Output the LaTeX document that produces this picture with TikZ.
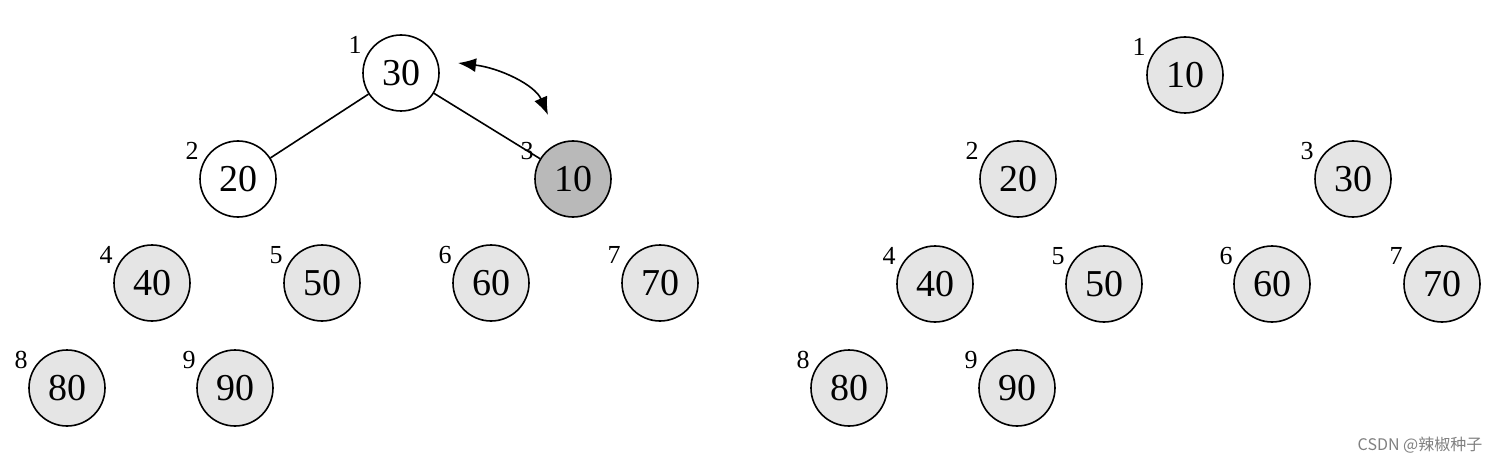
\documentclass[tikz,border=0pt]{standalone}
\usepackage{fontspec}
\setmainfont{Liberation Serif}
\newfontfamily\cjk{Noto Sans CJK SC}
\usetikzlibrary{arrows.meta}
\begin{document}
\begin{tikzpicture}[x=0.5pt,y=-0.5pt,
  nd/.style={circle,draw,thick,minimum size=38pt,inner sep=0pt,font=\fontsize{19}{19}\selectfont,fill=gray!20},
  wh/.style={nd,fill=white},
  dk/.style={nd,fill=gray!55},
  lb/.style={font=\fontsize{13}{13}\selectfont}]
\useasboundingbox (0,0) rectangle (1500,465);
\foreach \n/\x/\y/\v/\s in {a1/401/73/30/wh,a2/238/179/20/wh,a3/573/179/10/dk,a4/152/283/40/nd,a5/322/283/50/nd,a6/491/283/60/nd,a7/660/283/70/nd,a8/67/388/80/nd,a9/235/388/90/nd,
 b1/1185/75/10/nd,b2/1018/179/20/nd,b3/1353/179/30/nd,b4/935/284/40/nd,b5/1104/284/50/nd,b6/1272/284/60/nd,b7/1442/284/70/nd,b8/849/388/80/nd,b9/1017/388/90/nd}{
  \node[\s] (\n) at (\x,\y) {\v};
}
\foreach \t in {a,b}{
 \foreach \i in {1,...,9}{
  \node[lb] at ([xshift=-23pt,yshift=14pt]\t\i.center) {\i};
 }}
\draw[thick] (a1) -- (a2);
\draw[thick] (a1) -- (a3);
\coordinate (p) at (458,63);
\coordinate (q) at (548,115);
\draw[thick,{Latex[length=9pt,width=7pt]}-{Latex[length=9pt,width=7pt]}] (p) .. controls (500,68) and (535,85) .. (q);
\node[font=\cjk\fontsize{8}{8}\selectfont,text=gray] (wm) at (1420,445) {CSDN @辣椒种子};
\end{tikzpicture}
\end{document}
